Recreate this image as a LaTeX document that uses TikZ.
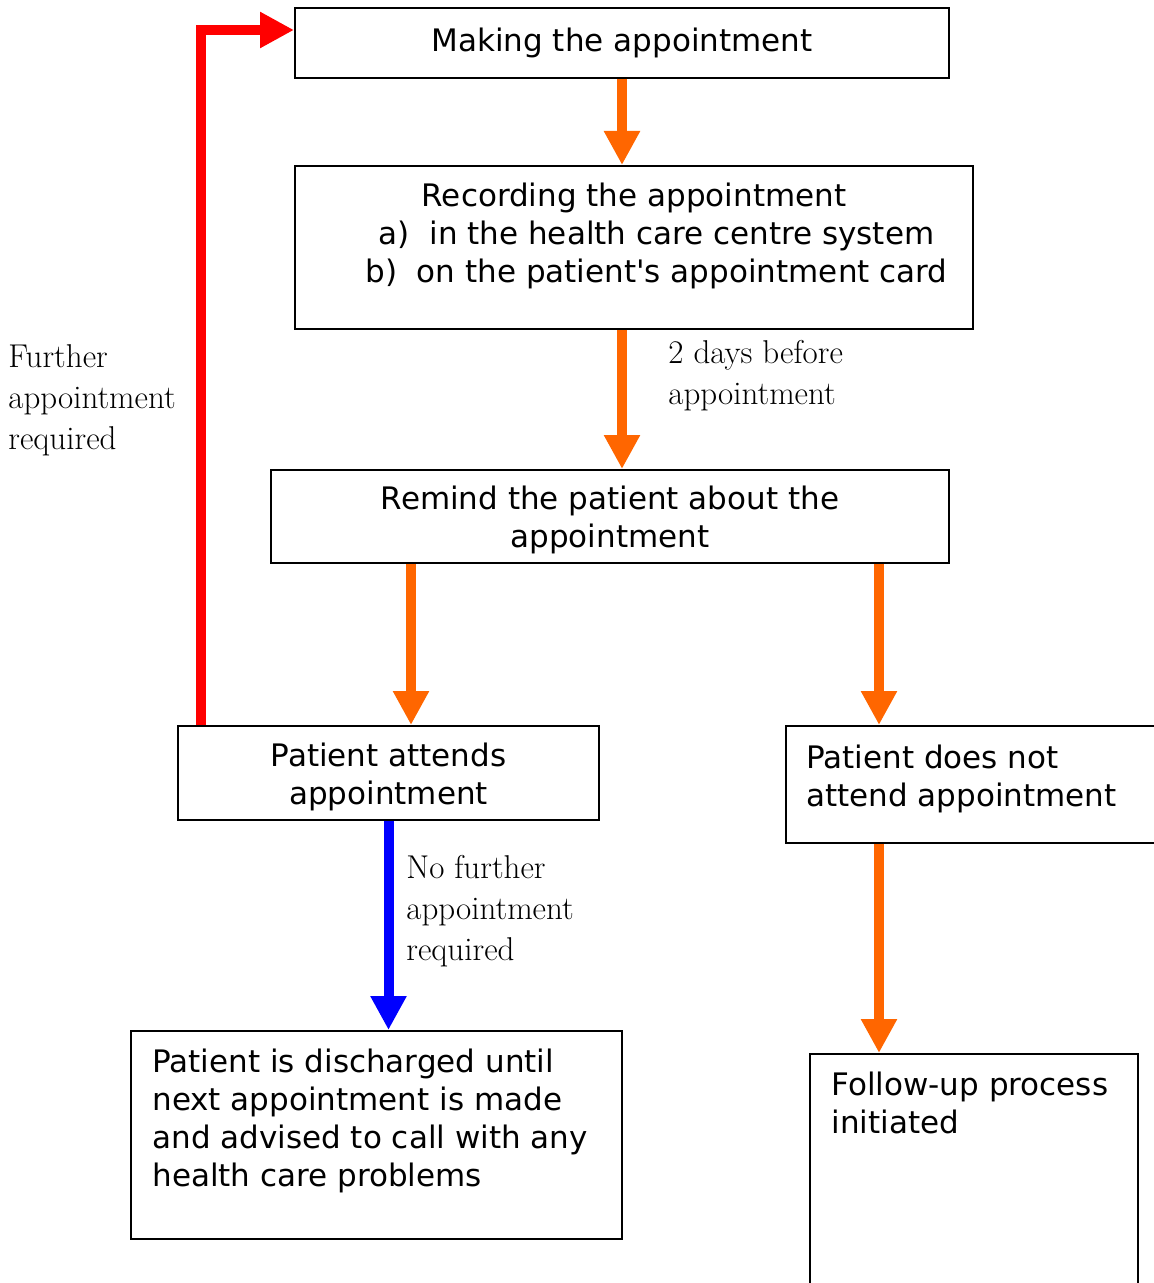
\documentclass[tikz,border=0pt]{standalone}
\usepackage{fontspec}
\newfontfamily\boxfont{DejaVu Sans}
\usetikzlibrary{arrows.meta}

\definecolor{flowOrange}{HTML}{FF6600}
\definecolor{flowRed}{HTML}{FF0000}
\definecolor{flowBlue}{HTML}{0000FF}

\tikzset{
  stepbox/.style={draw, line width=1pt, inner sep=0pt, align=center,
    font=\boxfont\fontsize{15.5}{19}\selectfont},
  boxtext/.style={inner sep=0pt, align=left,
    font=\boxfont\fontsize{15.5}{19}\selectfont},
  note/.style={inner sep=0pt, align=left, font=\fontsize{16.5}{20.5}\selectfont},
  flow/.style={line width=5pt, -{Triangle[width=17pt,length=17pt]}},
}

\begin{document}
\begin{tikzpicture}[x=0.5pt, y=-0.5pt]

\useasboundingbox (0,0) rectangle (1154,1283);
\clip (0,0) rectangle (1154,1283);

% define the steps
\node [stepbox, minimum width=327pt, minimum height=35pt] (making) at (622,43)
  {Making the appointment};
\node [stepbox, minimum width=339pt, minimum height=81.5pt] (record) at (634,247.5) {};
\node [stepbox, minimum width=339pt, minimum height=46.5pt] (remind) at (610,516.5) {};
\node [stepbox, minimum width=210.5pt, minimum height=47pt] (attend) at (388.5,773) {};
\node [stepbox, minimum width=200pt, minimum height=58.5pt] (notattend) at (986,784.5) {};
\node [stepbox, minimum width=245.5pt, minimum height=104pt] (discharge) at (376.5,1135) {};
\node [stepbox, minimum width=164pt, minimum height=133pt] (followup) at (974,1187) {};

% texts of the steps
\node [boxtext, align=center] (recordtext) at (634,236)
  {Recording the appointment\\
   \hspace*{22.5pt}a)\ \ in the health care centre system\\
   \hspace*{22.5pt}b)\ \ on the patient's appointment card};
\node [boxtext, align=center] (remindtext) at (610,520)
  {Remind the patient about the\\appointment};
\node [boxtext, align=center] (attendtext) at (388.5,777)
  {Patient attends\\appointment};
\node [boxtext, anchor=north west] (notattendtext) at (806,745)
  {Patient does not\\attend appointment};
\node [boxtext, anchor=north west] (dischargetext) at (152,1049)
  {Patient is discharged until\\next appointment is made\\and advised to call with any\\health care problems};
\node [boxtext, anchor=north west] (followuptext) at (831,1072)
  {Follow-up process\\initiated};

% arrow columns
\coordinate (colM) at (622,0);
\coordinate (colL) at (411,0);
\coordinate (colR) at (879,0);

% connect the steps
\draw [flow, flowOrange] (making.south) -- (making.south |- record.north);
\draw [flow, flowOrange] (record.south -| colM) -- (remind.north -| colM);
\draw [flow, flowOrange] (remind.south -| colL) -- (attend.north -| colL);
\draw [flow, flowOrange] (remind.south -| colR) -- (notattend.north -| colR);
\draw [flow, flowOrange] (notattend.south -| colR) -- (followup.north -| colR);
\draw [flow, flowBlue] (attend.south) -- (attend.south |- discharge.north);
\draw [flow, flowRed] ([xshift=12pt]attend.north west) |- ([yshift=6.5pt]making.west);

% notes on the arrows
\node [note, anchor=west] (daysnote) at (668,376) {2 days before\\appointment};
\node [note, anchor=west] (furthernote) at (8,400) {Further\\appointment\\required};
\node [note, anchor=west] (nofurthernote) at (406,911) {No further\\appointment\\required};

\end{tikzpicture}
\end{document}
